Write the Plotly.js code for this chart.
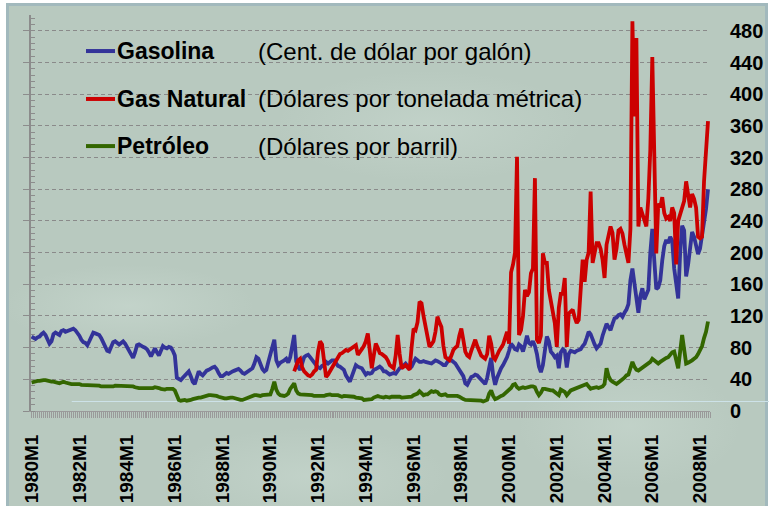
<!DOCTYPE html>
<html>
<head>
<meta charset="utf-8">
<script src="https://cdn.plot.ly/plotly-3.0.1.min.js"></script>
<style>
html,body{margin:0;padding:0;background:#ffffff;}
#wrap{position:relative;width:769px;height:506px;overflow:hidden;}
#bg{position:absolute;left:6px;top:3px;width:756px;height:520px;background-color:#b8c9bf;
  background-image:
    radial-gradient(ellipse 180px 60px at 120px 300px, rgba(215,230,222,0.35), rgba(215,230,222,0) 70%),
    radial-gradient(ellipse 220px 80px at 420px 120px, rgba(215,230,222,0.30), rgba(215,230,222,0) 70%),
    radial-gradient(ellipse 160px 90px at 620px 420px, rgba(215,230,222,0.30), rgba(215,230,222,0) 70%),
    radial-gradient(ellipse 200px 70px at 300px 470px, rgba(215,230,222,0.30), rgba(215,230,222,0) 70%);
  border-left:3px solid #a2b9bd;border-top:3px solid #a2b9bd;border-right:3px solid #a2b9bd;}
#chart{position:absolute;left:0;top:0;width:769px;height:506px;}
</style>
</head>
<body>
<div id="wrap"><div id="bg"></div><div id="chart"></div></div>
<script>
// ---- categories ----
const firstYear = 1980, lastYear = 2008;
const monthLabels = [];
for (let y = firstYear; y <= lastYear; y++) for (let m = 1; m <= 12; m++) monthLabels.push(y + 'M' + m);

const tickLabels = ['1980M1','1982M1','1984M1','1986M1','1988M1','1990M1','1992M1','1994M1',
  '1996M1','1998M1','2000M1','2002M1','2004M1','2006M1','2008M1'];

const seriesNames = ['Gasolina', 'Gas Natural', 'Petróleo'];
const seriesUnits = ['(Cent. de dólar por galón)', '(Dólares por tonelada métrica)', '(Dólares por barril)'];

// ---- series values (monthly, from 1980M1) ----
const gasolina = [
 94, 92, 91, 93, 94, 97, 99, 96, 90, 85, 88, 97,
 99, 97, 96, 101, 102, 100, 101, 102, 103, 104, 102, 99,
 95, 90, 87, 86, 83, 88, 95, 99, 98, 97, 96, 92,
 86, 80, 76, 75, 82, 87, 88, 86, 84, 86, 88, 85,
 80, 76, 70, 67, 74, 83, 84, 82, 81, 80, 78, 74,
 69, 74, 79, 74, 70, 76, 82, 80, 79, 81, 80, 76,
 70, 42, 40, 39, 42, 45, 48, 50, 44, 37, 34, 44,
 50, 47, 45, 48, 51, 52, 54, 55, 56, 53, 48, 44,
 44, 46, 48, 47, 49, 50, 51, 52, 53, 51, 48, 47,
 49, 51, 52, 54, 60, 68, 66, 58, 53, 50, 52, 62,
 72, 82, 90, 64, 58, 61, 62, 64, 66, 61, 68, 84,
 96, 63, 55, 52, 60, 68, 70, 71, 68, 64, 62, 58,
 55, 54, 57, 58, 62, 60, 62, 64, 64, 60, 57, 56,
 54, 52, 45, 40, 37, 44, 50, 58, 56, 55, 54, 50,
 46, 48, 47, 48, 52, 53, 55, 56, 54, 50, 50, 48,
 46, 47, 48, 47, 50, 54, 55, 58, 60, 57, 54, 56,
 60, 66, 64, 62, 62, 63, 62, 61, 61, 60, 62, 64,
 63, 62, 60, 58, 58, 62, 66, 64, 62, 60, 56, 52,
 50, 44, 35, 33, 38, 43, 44, 46, 45, 42, 39, 37,
 34, 42, 58, 67, 45, 33, 42, 50, 54, 58, 62, 68,
 76, 85, 82, 78, 77, 84, 82, 75, 84, 95, 86, 84,
 88, 82, 72, 56, 49, 58, 76, 94, 88, 75, 72, 68,
 70, 54, 74, 78, 76, 55, 72, 76, 75, 74, 76, 77,
 78, 82, 85, 92, 100, 97, 89, 84, 79, 82, 85, 95,
 104, 110, 106, 102, 110, 117, 118, 121, 122, 119, 124, 128,
 135, 165, 180, 160, 140, 124, 145, 155, 141, 148, 153, 200,
 230, 190, 154, 156, 165, 190, 208, 216, 212, 220, 215, 180,
 160, 142, 200, 234, 228, 170, 185, 208, 226, 220, 210, 198,
 205, 222, 235, 255, 280
];

const gasNaturalStart = '1991M1';
const gasNatural = [
 50, 58, 64, 66, 55, 50, 47, 45, 44, 46, 50, 52,
 75, 88, 84, 60, 43, 46, 50, 54, 60, 62, 66, 72,
 73, 75, 77, 76, 78, 79, 82, 83, 71, 74, 78, 82,
 88, 98, 75, 54, 70, 85, 80, 73, 72, 70, 68, 64,
 58, 56, 54, 70, 96, 72, 54, 56, 58, 55, 52, 80,
 104, 102, 112, 138, 136, 120, 106, 95, 81, 84, 88, 100,
 119, 112, 106, 82, 68, 66, 64, 70, 77, 80, 82, 95,
 104, 90, 75, 70, 68, 76, 84, 90, 82, 77, 70, 68,
 66, 72, 95, 85, 68, 65, 72, 76, 80, 84, 92, 100,
 85, 175, 185, 200, 321, 96, 102, 120, 153, 145, 150, 174,
 180, 294, 90, 86, 95, 199, 187, 187, 153, 140, 128, 111,
 81, 130, 148, 148, 168, 81, 123, 125, 128, 118, 111, 115,
 150, 191, 163, 191, 200, 277, 187, 200, 212, 212, 205, 191,
 168, 210, 224, 233, 225, 191, 205, 228, 230, 224, 210, 199,
 187, 230, 492, 372, 471, 233, 257, 249, 240, 233, 268, 330,
 447, 330, 199, 262, 257, 270, 250, 243, 245, 240, 257, 250,
 185, 240, 248, 257, 265, 290, 270, 257, 274, 268, 257, 220,
 218, 220, 290, 325, 366
];

const petroleo = [
 36, 37, 37, 38, 38, 39, 39, 39, 38, 38, 37, 37,
 36, 36, 35, 36, 37, 36, 35, 35, 34, 34, 34, 35,
 34, 33, 33, 32, 32, 33, 33, 33, 32, 32, 32, 31,
 31, 30, 30, 30, 31, 31, 32, 32, 32, 32, 31, 31,
 31, 31, 31, 31, 30, 29, 29, 29, 29, 29, 28, 28,
 28, 29, 30, 30, 29, 28, 27, 27, 28, 28, 28, 28,
 26, 18, 14, 13, 14, 14, 13, 13, 14, 15, 16, 16,
 17, 17, 18, 19, 19, 20, 20, 20, 20, 19, 18, 17,
 16, 16, 16, 17, 17, 17, 16, 15, 14, 14, 14, 15,
 17, 18, 19, 19, 20, 20, 19, 19, 20, 20, 20, 21,
 21, 28, 37, 27, 22, 20, 19, 19, 20, 22, 28, 31,
 35, 26, 22, 21, 21, 20, 20, 20, 20, 20, 19, 19,
 18, 18, 18, 19, 20, 21, 21, 20, 20, 21, 20, 19,
 18, 19, 19, 19, 19, 19, 18, 17, 17, 17, 16, 14,
 14, 14, 14, 15, 17, 18, 19, 18, 17, 17, 18, 17,
 17, 18, 18, 19, 19, 18, 17, 17, 17, 17, 18, 18,
 20, 21, 22, 25, 22, 20, 21, 21, 23, 25, 24, 25,
 24, 21, 20, 20, 21, 19, 19, 19, 19, 20, 19, 18,
 16, 15, 14, 14, 14, 13, 13, 13, 14, 14, 13, 12,
 13, 14, 22, 26, 19, 15, 16, 18, 19, 20, 22, 24,
 26, 29, 33, 34, 30, 28, 29, 30, 29, 30, 31, 31,
 31, 30, 24, 20, 23, 28, 28, 27, 26, 26, 26, 24,
 22, 20, 27, 26, 24, 20, 24, 26, 27, 28, 28, 29,
 30, 32, 33, 34, 31, 28, 29, 30, 30, 29, 30, 31,
 34, 54, 44, 39, 37, 36, 34, 36, 38, 39, 42, 45,
 46, 54, 62, 56, 52, 51, 53, 55, 56, 58, 60, 62,
 66, 64, 61, 60, 62, 64, 65, 67, 68, 71, 74, 75,
 66, 54, 75, 96, 78, 60, 61, 62, 64, 66, 68, 72,
 78, 82, 92, 100, 113
];

const colors = ['#333399', '#cc0000', '#336600'];

// ---- build traces ----
const idx = (lab) => monthLabels.indexOf(lab);
const xGas = gasolina.map((_, i) => i);
const gnStart = idx(gasNaturalStart);
const xGN = gasNatural.map((_, i) => gnStart + i);
const xPet = petroleo.map((_, i) => i);
const tickvals = tickLabels.map(idx);
const hoverText = (xs) => xs.map(i => monthLabels[i]);

const traces = [
  {x: xPet, y: petroleo, text: hoverText(xPet), name: seriesNames[2], type: 'scatter', mode: 'lines',
   line: {color: colors[2], width: 3.8}, yaxis: 'y2', hovertemplate: '%{text}: %{y}<extra>' + seriesNames[2] + '</extra>'},
  {x: xGas, y: gasolina, text: hoverText(xGas), name: seriesNames[0], type: 'scatter', mode: 'lines',
   line: {color: colors[0], width: 3.8}, hovertemplate: '%{text}: %{y}<extra>' + seriesNames[0] + '</extra>'},
  {x: xGN, y: gasNatural, text: hoverText(xGN), name: seriesNames[1], type: 'scatter', mode: 'lines',
   line: {color: colors[1], width: 3.8}, hovertemplate: '%{text}: %{y}<extra>' + seriesNames[1] + '</extra>'}
];

// ---- custom legend (lines + text) ----
const legendRowsY = [0.909, 0.788, 0.669];
const legendOrder = [0, 1, 2];
const shapes = [
  {type: 'line', xref: 'paper', yref: 'y', x0: 0.06, x1: 1.09, y0: 12, y1: 12,
   line: {color: '#cde2e8', width: 1}, layer: 'below'}
];
const annotations = [];
legendOrder.forEach((s, r) => {
  shapes.push({type: 'line', xref: 'paper', yref: 'paper', x0: 0.081, x1: 0.1237,
    y0: legendRowsY[r], y1: legendRowsY[r], line: {color: colors[s], width: 4}});
  annotations.push({xref: 'paper', yref: 'paper', x: 0.1237, y: legendRowsY[r], xanchor: 'left', yanchor: 'middle',
    text: '<b>' + seriesNames[s] + '</b>', showarrow: false, font: {size: 23, color: '#000'}});
  annotations.push({xref: 'paper', yref: 'paper', x: 0.3313, y: legendRowsY[r], xanchor: 'left', yanchor: 'middle',
    text: seriesUnits[s], showarrow: false, font: {size: 24, color: '#000'}});
});

const layout = {
  width: 769, height: 506,
  margin: {l: 31, r: 59, t: 15, b: 95},
  paper_bgcolor: 'rgba(0,0,0,0)', plot_bgcolor: 'rgba(0,0,0,0)',
  showlegend: false,
  font: {family: 'Arial, "Liberation Sans", sans-serif', color: '#000'},
  xaxis: {
    range: [-0.3, 341], tickmode: 'array', tickvals: tickvals, ticktext: tickLabels.map(t => '<b>' + t + '</b>'),
    tickangle: -90, tickfont: {size: 19, color: '#000'},
    ticks: 'outside', ticklen: 6, tickcolor: '#9a9a9a', tickwidth: 1,
    minor: {tickmode: 'linear', tick0: 0, dtick: 1, ticks: 'outside', ticklen: 6, tickcolor: '#9a9a9a', tickwidth: 1, showgrid: false},
    showline: true, linecolor: '#9a9a9a', linewidth: 1,
    showgrid: false, zeroline: false, ticklabelstandoff: 9, fixedrange: true
  },
  yaxis: {
    range: [0, 500], tick0: 0, dtick: 40, showticklabels: false,
    ticks: 'outside', ticklen: 6, tickcolor: '#8c8c8c', tickwidth: 1,
    minor: {dtick: 8, tick0: 0, ticks: 'inside', ticklen: 4, tickcolor: '#8c8c8c', showgrid: false},
    showline: true, linecolor: '#8c8c8c', linewidth: 1.5,
    showgrid: true, gridcolor: '#8a8a8a', griddash: '4px,3px', gridwidth: 1,
    zeroline: false, fixedrange: true
  },
  yaxis2: {
    overlaying: 'y', side: 'right', range: [0, 500], tick0: 0, dtick: 40,
    showgrid: false, zeroline: false, showline: false, ticks: '',
    tickfont: {size: 20, weight: 'bold', color: '#000'}, ticklabelstandoff: 19, fixedrange: true
  },
  shapes: shapes,
  annotations: annotations
};

Plotly.newPlot('chart', traces, layout, {displayModeBar: false});
</script>
</body>
</html>
